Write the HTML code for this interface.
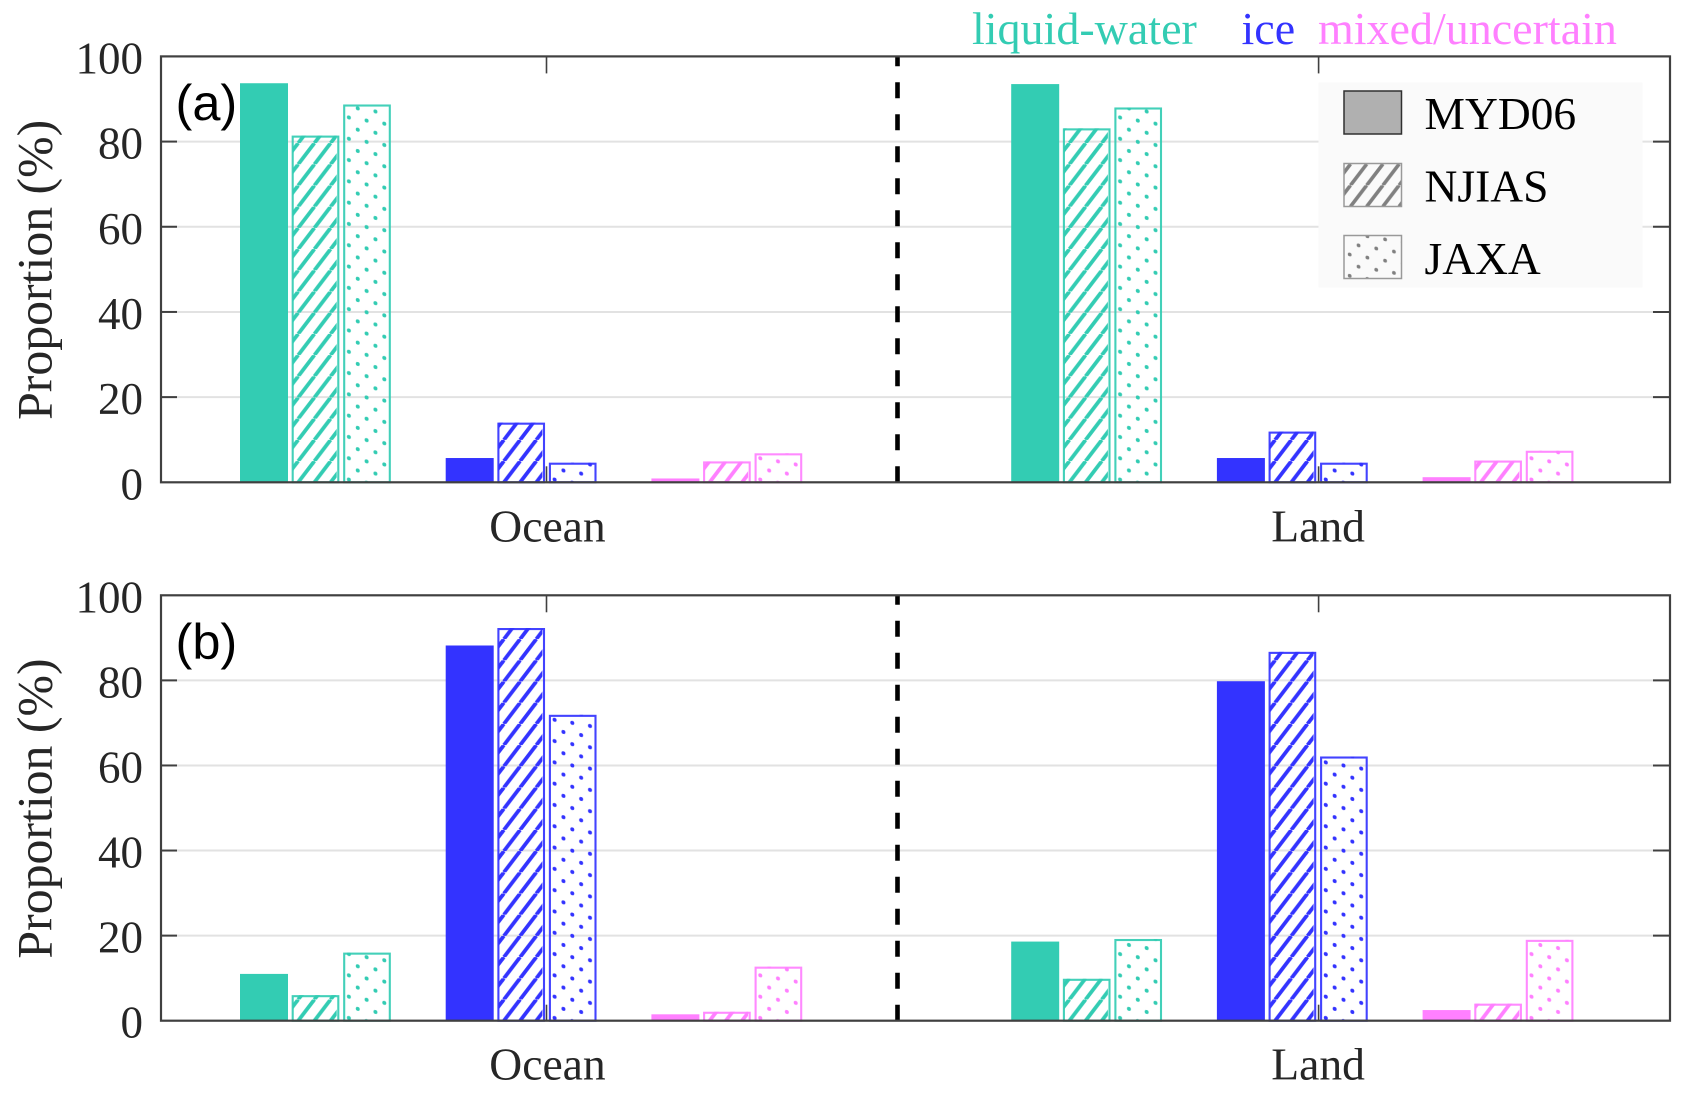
<!DOCTYPE html>
<html lang="en">
<head>
<meta charset="utf-8">
<title>Cloud phase proportion</title>
<style>
html,body{margin:0;padding:0;background:#fff;width:1689px;height:1093px;overflow:hidden}
svg{display:block}
text{font-family:"Liberation Serif",serif}
</style>
</head>
<body>
<svg id="chart" xmlns="http://www.w3.org/2000/svg" width="1689" height="1093" viewBox="0 0 1689 1093">
  <defs id="defs"></defs>
  <g id="plots"></g>
  <g font-size="46">
    <text x="972" y="44" fill="#33ccb3">liquid-water</text>
    <text x="1241.5" y="44" fill="#3333ff">ice</text>
    <text x="1318" y="44" fill="#ff80ff">mixed/uncertain</text>
  </g>
  <g id="legend">
    <rect x="1318.5" y="82.5" width="324" height="205" fill="#fafafa"/>
    <g>
      <rect x="1344" y="91" width="57.5" height="43" fill="#b0b0b0" stroke="#303030" stroke-width="1.5"/>
      <text x="1424.5" y="129" font-size="45.5" fill="#000">MYD06</text>
    </g>
    <g>
      <g transform="translate(1344,206.5)">
        <rect x="0" y="-43" width="57.5" height="43" fill="url(#hatch-legend)"/>
        <rect x="0" y="-43" width="57.5" height="43" fill="none" stroke="#999" stroke-width="1.5"/>
      </g>
      <text x="1424.5" y="201.5" font-size="45.5" fill="#000">NJIAS</text>
    </g>
    <g>
      <g transform="translate(1344,278.5)">
        <rect x="0" y="-43" width="57.5" height="43" fill="url(#dots-legend)"/>
        <rect x="0" y="-43" width="57.5" height="43" fill="none" stroke="#999" stroke-width="1.5"/>
      </g>
      <text x="1424.5" y="274" font-size="45.5" fill="#000">JAXA</text>
    </g>
  </g>
</svg>
<script>
/* ---------- data ---------- */
const regions = ['Ocean', 'Land'];
const phases = ['liquid-water', 'ice', 'mixed-uncertain'];
const products = ['MYD06', 'NJIAS', 'JAXA'];
const yTicks = [0, 20, 40, 60, 80, 100];
const yTickLabels = ['0', '20', '40', '60', '80', '100'];
const panelLabels = ['(a)', '(b)'];

/* each row: one phase; each column: one product */
const panelAOcean = [
  [93.7, 81.4, 88.7],
  [5.7, 14.0, 4.6],
  [0.9, 4.9, 6.8]
];
const panelALand = [
  [93.5, 83.1, 88.0],
  [5.7, 11.9, 4.6],
  [1.2, 5.1, 7.4]
];
const panelBOcean = [
  [11.0, 6.0, 16.0],
  [88.2, 92.3, 71.9],
  [1.5, 2.1, 12.7]
];
const panelBLand = [
  [18.6, 9.85, 19.2],
  [79.8, 86.7, 62.1],
  [2.5, 4.0, 19.0]
];
const panelValues = [
  [panelAOcean, panelALand],
  [panelBOcean, panelBLand]
];

/* ---------- layout ---------- */
const NS = 'http://www.w3.org/2000/svg';
const phaseColors = ['#33ccb3', '#3333ff', '#ff80ff'];
const plotLeft = 161, plotRight = 1670;
const panelTops = [56.4, 595.3];
const panelBottoms = [482.3, 1020.7];
const regionFirstCenter = [315.5, 1086.7];
const regionTick = [546.5, 1318.6];
const dividerX = 897.5;

function xScale(regionIndex, phaseIndex, productIndex) {
  return regionFirstCenter[regionIndex] + 205.7 * phaseIndex + 51.5 * (productIndex - 1);
}
function yScale(panelIndex, value) {
  const b = panelBottoms[panelIndex], t = panelTops[panelIndex];
  return b - (b - t) * value / 100;
}
function make(tag, attrs, parent) {
  const el = document.createElementNS(NS, tag);
  for (const k in attrs) el.setAttribute(k, attrs[k]);
  if (parent) parent.appendChild(el);
  return el;
}

/* ---------- fill patterns (anchored to each bar's lower-left corner) ---------- */
const defs = document.getElementById('defs');
function addPatterns(key, color, dotRadius, hatchWidth) {
  const h = make('pattern', {id: 'hatch-' + key, patternUnits: 'userSpaceOnUse', x: 6.5, y: 0, width: 16.2, height: 21.2}, defs);
  [-16.2, 0, 16.2].forEach(function (dx) {
    make('line', {x1: dx, y1: 21.2, x2: dx + 16.2, y2: 0, stroke: color, 'stroke-width': hatchWidth}, h);
  });
  const d = make('pattern', {id: 'dots-' + key, patternUnits: 'userSpaceOnUse', width: 17.7, height: 21.3, patternTransform: 'skewY(9.93)'}, defs);
  make('circle', {cx: 5.7, cy: 17.6, r: dotRadius, fill: color}, d);
  make('circle', {cx: 14.55, cy: 6.95, r: dotRadius, fill: color}, d);
}
phaseColors.forEach(function (c, i) { addPatterns(i, c, 2, 3.8); });
addPatterns('legend', '#808080', 1.9, 3.6);

/* ---------- drawing ---------- */
const plots = document.getElementById('plots');

function drawBar(parent, panelIndex, regionIndex, phaseIndex, productIndex, value) {
  const cx = xScale(regionIndex, phaseIndex, productIndex);
  const base = panelBottoms[panelIndex];
  const top = yScale(panelIndex, value);
  const color = phaseColors[phaseIndex];
  const barH = base - top;
  const barW = productIndex === 0 ? 48 : 47.6;
  const g = make('g', {transform: 'translate(' + (cx - barW / 2) + ',' + base + ')'}, parent);
  
  
  if (productIndex === 0) {
    make('rect', {x: 0, y: -barH, width: barW, height: barH, fill: color}, g);
  } else {
    const key = productIndex === 1 ? 'hatch-' : 'dots-';
    make('rect', {x: 1, y: -barH, width: barW - 3.6, height: barH, fill: 'url(#' + key + phaseIndex + ')'}, g);
    make('rect', {x: 1, y: -barH + 1, width: barW - 2, height: Math.max(barH - 1, 0), fill: 'none', stroke: color, 'stroke-width': 2.1, 'stroke-opacity': 0.92}, g);
  }
}

panelValues.forEach(function (regionValues, p) {
  const top = panelTops[p], bottom = panelBottoms[p];
  const panel = make('g', {}, plots);
  
  

  /* grid */
  yTicks.forEach(function (v) {
    if (v === 0 || v === 100) return;
    const line = make('line', {x1: plotLeft, x2: plotRight, y1: yScale(p, v), y2: yScale(p, v), stroke: '#e2e2e2', 'stroke-width': 2}, panel);
    
    
  });

  /* bars */
  regionValues.forEach(function (rows, r) {
    rows.forEach(function (row, ph) {
      row.forEach(function (val, pr) {
        drawBar(panel, p, r, ph, pr, val);
      });
    });
  });

  /* divider */
  const divider = make('line', {x1: dividerX, x2: dividerX, y1: bottom, y2: top, stroke: '#000', 'stroke-width': 4.6, 'stroke-dasharray': '16 16'}, panel);
  
  

  /* ticks */
  yTicks.forEach(function (v, i) {
    const y = yScale(p, v);
    if (v !== 0 && v !== 100) {
      const tl = make('line', {x1: plotLeft, x2: plotLeft + 16, y1: y, y2: y, stroke: '#404040', 'stroke-width': 2}, panel);
      
      
      const tr = make('line', {x1: plotRight - 17, x2: plotRight, y1: y, y2: y, stroke: '#404040', 'stroke-width': 2}, panel);
      
      
    }
    const lab = make('text', {x: 143, y: y + 17, 'text-anchor': 'end', 'font-size': 45, fill: '#262626'}, panel);
    lab.textContent = yTickLabels[i];
    
    
  });

  regions.forEach(function (name, r) {
    const x = regionTick[r];
    const t1 = make('line', {x1: x, x2: x, y1: top, y2: top + 17, stroke: '#404040', 'stroke-width': 1.6}, panel);
    
    
    const t2 = make('line', {x1: x, x2: x, y1: bottom - 16, y2: bottom, stroke: '#404040', 'stroke-width': 1.6}, panel);
    
    
    const lab = make('text', {x: x + (r === 0 ? 1 : -0.5), y: bottom + 59, 'text-anchor': 'middle', 'font-size': 45.6, fill: '#262626'}, panel);
    lab.textContent = name;
    
    
  });

  /* frame */
  const frame = make('rect', {x: plotLeft, y: top, width: plotRight - plotLeft, height: bottom - top, fill: 'none', stroke: '#404040', 'stroke-width': 2.2}, panel);
  
  

  /* y-axis title */
  const midY = (top + bottom) / 2 + 0.5;
  const yTitle = make('text', {transform: 'translate(51.5,' + midY + ') rotate(-90)', 'text-anchor': 'middle', 'font-size': 49.8, fill: '#262626'}, panel);
  yTitle.textContent = 'Proportion (%)';
  
  

  /* panel letter */
  const letter = make('text', {x: 175.5, y: top + 63.5, 'font-size': 50.5, fill: '#000', style: 'font-family:"Liberation Sans",sans-serif'}, panel);
  letter.textContent = panelLabels[p];
  
  
});
</script>
</body>
</html>
